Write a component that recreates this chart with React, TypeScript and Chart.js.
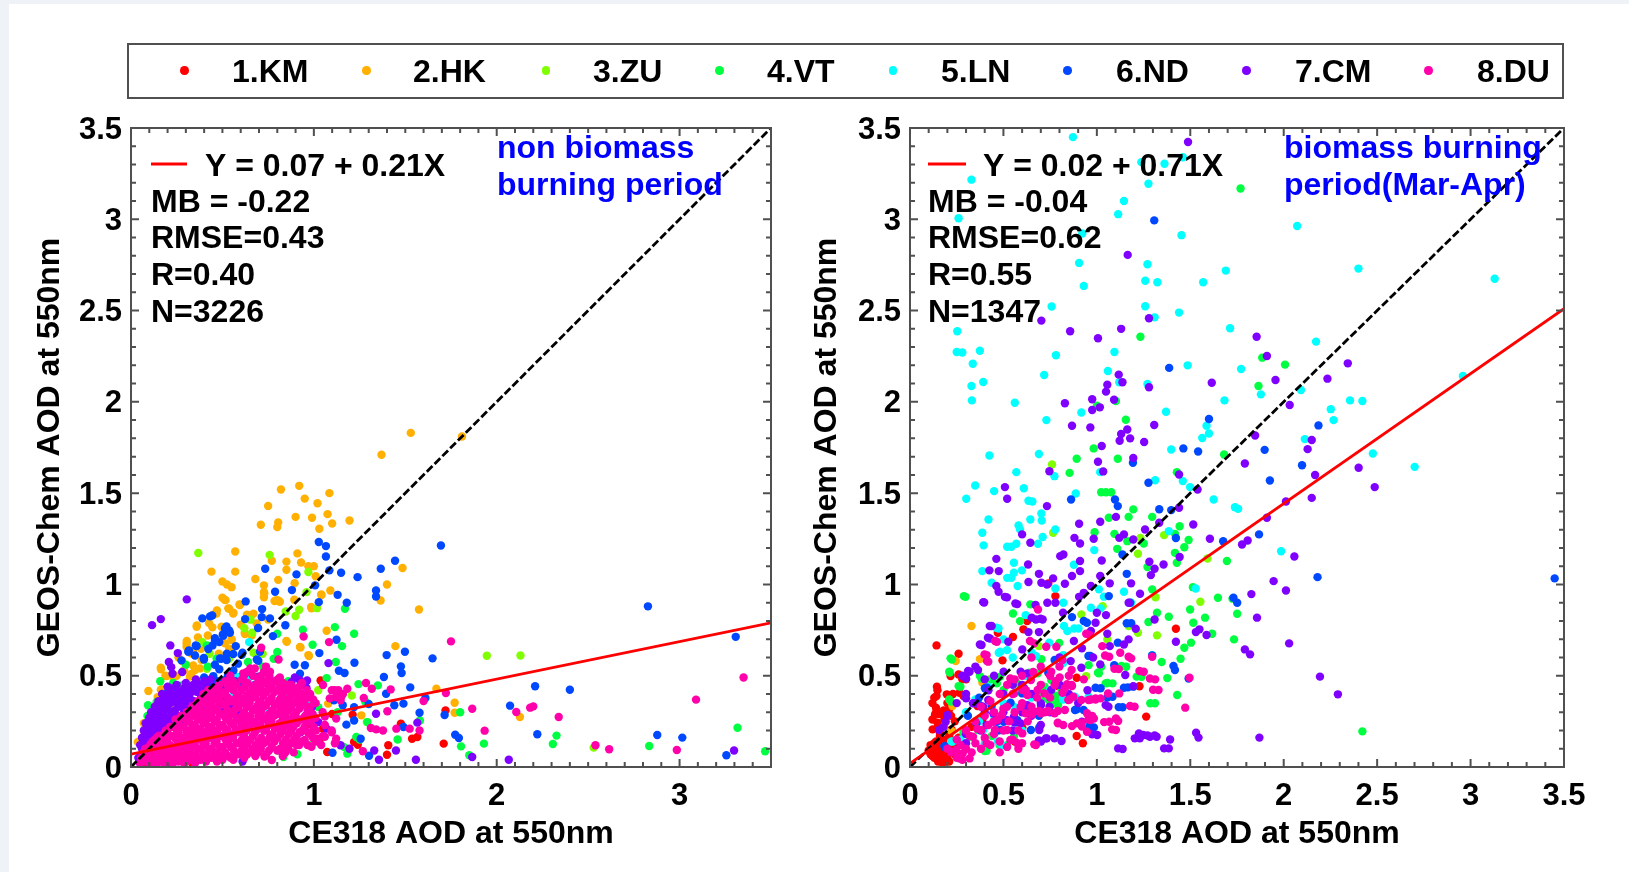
import React, { useEffect, useRef } from "react";
import { Chart, registerables } from "chart.js";

Chart.register(...registerables);

type Pair = [number, number];

const SERIES_NAMES = ["1.KM", "2.HK", "3.ZU", "4.VT", "5.LN", "6.ND", "7.CM", "8.DU"];
const SERIES_COLORS = ["#ff0000", "#ffb000", "#80ff00", "#00ff40", "#00ffff", "#0048ff", "#8000ff", "#ff00aa"];

/* ---------- left panel: non biomass burning period ---------- */
const leftKM: Pair[] = [[1.037,.474],[1.72,.31],[1.71,.128],[1.476,.237],[1.407,.119],[1.4,.067],[1.22,.137],[1.24,.122],[1.537,.155],[1.566,.164],[1.212,.286],[.963,.283],[.976,.237],[1.05,.21],[1,.2],[.073,.195],[.07,.01],[.12,0],[.34,.01],[1.073,.082],[1.1,.29],[.9,.27],[1.03,.14]];
const leftHK: Pair[] = [[1.53,1.83],[1.81,1.81],[1.37,1.71],[.82,1.52],[.92,1.54],[1.085,1.5],[.95,1.47],[.75,1.43],[1.02,1.445],[.9,1.37],[.99,1.365],[1.075,1.385],[1.195,1.35],[.71,1.327],[.805,1.34],[.8,1.314],[1.1,1.334],[1.03,1.305],[.57,1.18],[.91,1.17],[.77,1.13],[.85,1.125],[.93,1.12],[.97,1.1],[1,1.1],[.44,1.07],[.57,1.07],[.85,1.08],[.68,1.03],[.805,1.025],[1.01,1.045],[1.485,1.09],[.5,1.016],[.525,1],[.55,.985],[.727,.995],[.895,1.007],[1.4,1],[.727,.958],[.727,.93],[1.09,.967],[1.365,.912],[1.575,.863],[.5,.927],[.512,.916],[.805,.912],[.785,.909],[.893,.916],[1.04,.945],[.985,.876],[.537,.867],[.47,.858],[.56,.845],[.593,.89],[.45,.834],[.634,.834],[.67,.84],[.75,.808],[.36,.775],[.427,.788],[1.07,.746],[.622,.735],[.85,.69],[.366,.71],[.305,.69],[1.446,.662],[.924,.657],[.97,.613],[.55,.7],[.537,.648],[.383,.648],[.34,.63],[.163,.544],[.188,.5],[.29,.53],[.34,.556],[.33,.51],[.095,.416],[.163,.423],[.117,.283],[.037,.137],[1.67,.429],[1.77,.352],[1.77,.297],[2.127,.274],[1.078,.347],[1.26,.283],[.23,.338],[.195,.392],[.146,.383],[.164,.535],[.168,.425],[.195,.498],[.231,.491],[.304,.677],[.304,.659],[.359,.768],[.445,.765],[.517,.914],[.532,.869],[.559,.841],[.596,.887],[.468,.841],[.659,.832],[.623,.728],[.687,.786],[.796,.914],[.814,.905],[.729,.951],[1.042,.942],[.852,.686],[.927,.655],[.973,.608],[.987,.869],[.322,.495],[.35,.531],[.386,.586],[.295,.385],[.204,.33],[.122,.276],[.33,.622],[.377,.54],[.514,.677],[.55,.695],[.495,.768],[.085,.2],[.07,.24],[.26,.6],[.25,.5],[.28,.58],[.42,.72],[.48,.62],[.6,.78],[.66,.72]];
const leftZU: Pair[] = [[.368,1.172],[.758,1.162],[.97,1.068],[.96,.958],[.92,.861],[.9,.827],[.846,.852],[1.017,.87],[1.946,.609],[2.13,.611],[.663,.735],[.654,.807],[.39,.684],[.67,.626],[2.53,.106],[.415,.538],[.537,.593],[1.29,.246],[1.207,.392],[1.024,.42],[.33,.429],[.488,.465],[.62,.76],[.72,.62],[.43,.62]];
const leftVT: Pair[] = [[.093,.338],[.14,.356],[1.17,.867],[1.115,.766],[1.22,.73],[1.154,.662],[.993,.67],[.94,.752],[.8,.73],[.8,.63],[.78,.593],[1.12,.575],[1.07,.487],[1.244,.454],[1.35,.447],[1.024,.328],[1.8,.3],[1.58,.255],[1.293,.246],[1.458,.151],[1.805,.113],[1.85,.064],[1.93,.128],[2.327,.172],[2.307,.126],[2.834,.115],[3.317,.215],[3.468,.086],[1.183,.073],[.91,.07],[.834,.055],[.976,.119],[1.232,.164],[1.166,.109],[.805,.09],[.28,.447],[.39,.41],[.537,.356],[.64,.575],[.468,.593],[.415,.666],[.25,.44],[.19,.4],[.62,.46],[.75,.5],[.86,.47],[1.13,.3],[1.28,.36],[1.25,.15],[.1,.13],[.09,.28],[.16,.47],[.23,.46],[.3,.56],[.42,.55],[.56,.48],[.72,.55]];
const leftLN: Pair[] = [[.646,.684],[.585,.493],[.756,.3],[.927,.338],[.956,.352],[.56,.392],[.634,.41],[.854,.374],[.64,.48],[.98,.36]];
const leftND: Pair[] = [[1.027,1.232],[1.066,1.21],[1.066,1.153],[1.695,1.213],[.734,1.086],[1.444,1.13],[1.366,1.086],[1.085,1.077],[1.149,1.064],[1.239,1.04],[.905,1.055],[1.007,.995],[.788,.96],[.88,.969],[1.34,.967],[1.34,.934],[1.13,.943],[1.18,.9],[1.027,.903],[2.827,.88],[.627,.907],[.717,.865],[.715,.821],[.76,.814],[.624,.81],[.39,.814],[.432,.825],[.444,.83],[.844,.776],[.695,.761],[.522,.77],[.537,.748],[.502,.726],[.776,.717],[3.307,.713],[1.124,.697],[.459,.706],[.483,.684],[.446,.666],[.354,.666],[.573,.662],[.317,.639],[.35,.611],[.398,.597],[.524,.62],[.493,.593],[.61,.626],[.688,.589],[1.03,.624],[1.498,.631],[1.398,.613],[1.649,.595],[.276,.584],[1.476,.551],[1.48,.515],[1.222,.571],[1.137,.527],[1.168,.515],[.895,.56],[.951,.557],[.924,.511],[.459,.56],[.483,.535],[.585,.566],[.56,.529],[1.383,.493],[1.527,.436],[2.21,.442],[2.4,.423],[1.395,.401],[1.61,.378],[1.49,.347],[1.44,.338],[1.3,.345],[2.073,.336],[1.578,.297],[1.715,.285],[1.22,.328],[1.178,.232],[1.22,.255],[1.49,.219],[1.773,.177],[1.793,.159],[2.222,.179],[2.878,.175],[3.015,.161],[3.256,.064],[1.102,.078],[1.302,.062],[1.256,.155],[.678,.451],[.427,.451],[.317,.41],[.44,.338],[.658,.41],[1.11,.365],[1.158,.338],[.514,.759],[.541,.735],[.505,.719],[.459,.695],[.423,.646],[.359,.662],[.313,.631],[.399,.589],[.486,.595],[.523,.586],[.559,.619],[.605,.614],[.705,.631],[.696,.582],[.45,.498],[.423,.449],[.377,.403],[.441,.403],[.514,.476],[.659,.403],[.696,.495],[.605,.44],[.687,.44],[.204,.412],[.47,.47],[.53,.5],[.57,.47],[.4,.49],[.36,.46],[.64,.52],[.74,.46]];
const leftCM: Pair[] = [[.305,.918],[.163,.81],[.115,.777],[.215,.666],[.256,.624],[.207,.575],[.22,.547],[.227,.511],[.28,.52],[1.08,.569],[.963,.474],[.878,.465],[.923,.476],[.951,.458],[.96,.431],[.896,.491],[.05,.12],[.06,.16],[.07,.2],[.08,.24],[.09,.18],[.1,.27],[.1,.22],[.11,.3],[.12,.15],[.13,.33],[.14,.27],[.15,.36],[.15,.22],[.16,.3],[.17,.4],[.18,.34],[.19,.27],[.2,.44],[.2,.37],[.22,.3],[.23,.42],[.25,.35],[.26,.28],[.28,.4],[.3,.46],[.3,.33],[.32,.38],[.34,.45],[.35,.3],[.37,.42],[.38,.35],[.4,.47],[.42,.4],[.44,.33],[.46,.44],[.48,.37],[.5,.3],[.52,.38],[.55,.33],[.58,.3],[.6,.25],[.05,.02],[.1,.02],[.15,.03],[.2,.02],[.04,.05],[.61,.03],[1.558,.04],[1.866,.055],[2.066,.04],[3.298,.09],[1.356,.04],[1.33,.09],[1.449,.09],[1.34,.292],[1.566,.243],[1.195,.1],[.99,.328],[1.07,.21],[1.146,.119],[1.024,.246],[.927,.19],[.231,.403],[.268,.385],[.204,.394],[.168,.349],[.313,.403],[.359,.412],[.404,.422],[.386,.294],[.423,.276],[.13,.2],[.18,.18],[.22,.24],[.06,.1],[.07,.13],[.08,.17],[.09,.21],[.1,.16],[.105,.25],[.115,.19],[.12,.23],[.125,.28],[.13,.18],[.14,.22],[.14,.31],[.145,.34],[.15,.26],[.155,.19],[.16,.33],[.165,.24],[.17,.29],[.175,.36],[.18,.21],[.185,.31],[.19,.38],[.195,.24],[.2,.33],[.21,.27],[.21,.4],[.215,.35],[.225,.43],[.23,.27],[.24,.31],[.24,.38],[.25,.45],[.26,.33],[.265,.41],[.27,.25],[.28,.36],[.29,.3],[.29,.43],[.305,.37],[.31,.28],[.315,.44],[.325,.33],[.33,.41],[.345,.36],[.355,.48],[.36,.33],[.37,.45],[.39,.39],[.4,.33],[.41,.45],[.43,.37],[.435,.48],[.45,.41],[.465,.38],[.49,.44],[.51,.42],[.53,.36]];
const leftDU: Pair[] = [[1.75,.688],[3.35,.49],[3.09,.369],[.944,.715],[1.083,.684],[.807,.589],[.712,.653],[1.285,.46],[1.317,.429],[1.42,.425],[1.722,.405],[1.402,.305],[1.273,.378],[1.6,.361],[1.866,.319],[2.107,.301],[2.183,.325],[2.2,.332],[2.339,.274],[1.934,.199],[2.54,.119],[2.615,.097],[2.985,.093],[1.312,.214],[1.341,.206],[1.378,.2],[1.451,.21],[1.524,.21],[1.578,.2],[1.098,.42],[1.134,.42],[1.159,.4],[1.12,.383],[1.183,.429],[1.146,.365],[1.122,.265],[1.098,.19],[1.122,.155],[1.024,.155],[1.268,.086],[.514,.403],[.568,.367],[.614,.513],[.677,.54],[.76,.522],[.814,.49],[.687,.42],[.76,.467],[.86,.449],[.878,.412],[.823,.385],[.96,.42],[.915,.385],[1.05,.449],[1.114,.42],[1.15,.385],[1.087,.376],[1.06,.276],[.96,.276],[1.097,.2],[1.06,.166],[.95,.148],[.987,.111],[1.115,.13],[1.06,.23],[1.04,.12],[.77,.038],[.73,.057],[.905,.12],[.84,.12]];
const leftDUDense: Pair[] = [[.05,.02],[.055,.05],[.08,.03],[.082,.07],[.078,.1],[.1,.02],[.102,.06],[.098,.11],[.12,.04],[.122,.09],[.118,.14],[.14,.02],[.142,.07],[.138,.12],[.141,.16],[.16,.04],[.162,.1],[.158,.15],[.18,.02],[.182,.07],[.178,.12],[.181,.18],[.2,.04],[.202,.09],[.198,.14],[.2,.2],[.23,.02],[.232,.06],[.228,.11],[.231,.17],[.229,.22],[.26,.03],[.262,.08],[.258,.13],[.261,.19],[.259,.25],[.29,.02],[.292,.06],[.288,.11],[.291,.16],[.289,.22],[.29,.27],[.32,.04],[.322,.09],[.318,.14],[.321,.2],[.319,.25],[.32,.3],[.35,.02],[.352,.07],[.348,.12],[.351,.18],[.349,.23],[.35,.29],[.352,.34],[.38,.04],[.382,.1],[.378,.15],[.381,.21],[.379,.27],[.38,.33],[.382,.37],[.41,.03],[.412,.07],[.408,.13],[.411,.19],[.409,.25],[.41,.3],[.412,.36],[.44,.05],[.442,.1],[.438,.16],[.441,.22],[.439,.28],[.44,.34],[.442,.4],[.47,.03],[.472,.08],[.468,.14],[.471,.2],[.469,.26],[.47,.32],[.472,.37],[.468,.42],[.5,.04],[.502,.11],[.498,.17],[.501,.23],[.499,.29],[.5,.35],[.502,.41],[.53,.06],[.532,.13],[.528,.2],[.531,.26],[.529,.31],[.53,.38],[.532,.44],[.56,.04],[.562,.09],[.558,.16],[.561,.23],[.559,.29],[.56,.36],[.562,.42],[.558,.47],[.59,.07],[.592,.13],[.588,.19],[.591,.26],[.589,.33],[.59,.39],[.62,.05],[.622,.11],[.618,.17],[.621,.24],[.619,.3],[.62,.37],[.622,.44],[.618,.5],[.65,.08],[.652,.15],[.648,.22],[.651,.28],[.649,.35],[.65,.41],[.652,.54],[.68,.06],[.682,.12],[.678,.19],[.681,.25],[.679,.32],[.68,.38],[.682,.45],[.71,.1],[.712,.16],[.708,.23],[.711,.3],[.709,.36],[.71,.43],[.712,.5],[.74,.07],[.742,.14],[.738,.2],[.741,.27],[.739,.34],[.74,.41],[.742,.47],[.738,.55],[.77,.11],[.772,.18],[.768,.25],[.771,.31],[.769,.38],[.77,.45],[.8,.09],[.802,.16],[.798,.22],[.801,.29],[.799,.35],[.8,.42],[.802,.48],[.83,.06],[.832,.13],[.828,.2],[.831,.27],[.829,.33],[.83,.4],[.832,.46],[.86,.1],[.862,.18],[.858,.24],[.861,.31],[.859,.37],[.89,.08],[.892,.15],[.888,.22],[.891,.28],[.889,.35],[.89,.41],[.92,.12],[.922,.19],[.918,.26],[.921,.32],[.919,.38],[.92,.44],[.95,.22],[.952,.28],[.948,.36],[.98,.18],[.982,.25],[.978,.33],[.98,.4],[1.01,.14],[1.012,.2],[1.008,.27],[1.01,.35],[1.05,.17],[1.048,.3]];
const leftDUFill: Pair[] = [[.066,.04],[.068,.08],[.11,.04],[.112,.085],[.108,.125],[.13,.02],[.132,.065],[.128,.11],[.131,.15],[.15,.05],[.152,.09],[.148,.13],[.151,.17],[.17,.03],[.172,.08],[.168,.13],[.171,.17],[.19,.05],[.192,.1],[.188,.15],[.191,.2],[.215,.03],[.217,.07],[.213,.12],[.216,.17],[.214,.22],[.245,.04],[.247,.1],[.243,.155],[.246,.21],[.244,.26],[.275,.05],[.277,.105],[.273,.16],[.276,.22],[.274,.28],[.305,.03],[.307,.08],[.303,.13],[.306,.19],[.304,.25],[.305,.3],[.335,.06],[.337,.115],[.333,.17],[.336,.225],[.334,.28],[.335,.33],[.365,.045],[.367,.1],[.363,.15],[.366,.2],[.364,.26],[.365,.31],[.367,.36],[.395,.07],[.397,.12],[.393,.18],[.396,.24],[.394,.3],[.395,.35],[.397,.4],[.425,.05],[.427,.1],[.423,.16],[.426,.22],[.424,.27],[.425,.33],[.427,.38],[.423,.42],[.455,.07],[.457,.13],[.453,.19],[.456,.25],[.454,.31],[.455,.37],[.457,.43],[.485,.06],[.487,.11],[.483,.17],[.486,.23],[.484,.29],[.485,.34],[.487,.39],[.483,.45],[.515,.08],[.517,.15],[.513,.21],[.516,.27],[.514,.34],[.515,.4],[.517,.47],[.545,.05],[.547,.11],[.543,.18],[.546,.24],[.544,.3],[.545,.36],[.547,.43],[.543,.5],[.575,.07],[.577,.13],[.573,.2],[.576,.26],[.574,.32],[.575,.38],[.577,.45],[.605,.09],[.607,.15],[.603,.22],[.606,.28],[.604,.35],[.605,.42],[.607,.48],[.635,.07],[.637,.13],[.633,.2],[.636,.26],[.634,.33],[.635,.39],[.637,.46],[.633,.52],[.665,.1],[.667,.17],[.663,.24],[.666,.31],[.664,.38],[.665,.44],[.667,.5],[.695,.08],[.697,.14],[.693,.21],[.696,.28],[.694,.34],[.695,.41],[.697,.48],[.725,.13],[.727,.2],[.723,.26],[.726,.33],[.724,.39],[.725,.46],[.727,.52],[.755,.09],[.757,.16],[.753,.23],[.756,.29],[.754,.36],[.755,.43],[.757,.5],[.785,.14],[.787,.21],[.783,.28],[.786,.34],[.784,.41],[.785,.47],[.815,.1],[.817,.18],[.813,.24],[.816,.31],[.814,.37],[.815,.44],[.845,.08],[.847,.15],[.843,.22],[.846,.29],[.844,.35],[.845,.42],[.875,.13],[.877,.2],[.873,.26],[.876,.33],[.874,.39],[.875,.45],[.905,.17],[.907,.24],[.903,.3],[.906,.36],[.904,.43],[.935,.14],[.937,.2],[.933,.26],[.936,.34],[.934,.4],[.935,.46],[.965,.12],[.967,.19],[.963,.25],[.966,.31],[.964,.38],[.995,.16],[.997,.22],[.993,.29],[.996,.37]];

/* ---------- right panel: biomass burning period ---------- */
const rightKM: Pair[] = [[.142,.666],[.26,.62],[.144,.44],[.147,.42],[.142,.389],[.139,.325],[.134,.288],[.21,.316],[.121,.206],[.147,.243],[.197,.398],[.265,.407],[.26,.507],[.217,.498],[.607,.754],[.551,.712],[.47,.735],[.627,.799],[.778,.936],[.74,1.005],[1.423,.757],[.495,.584],[1.228,.442],[1.264,.276],[.892,.17],[.925,.13],[.892,.489],[.791,.443],[.601,.215],[.387,.261],[.286,.389],[.361,.334],[.16,.188],[.184,.261],[.222,.206],[.1,.09],[.12,.06],[.14,.1],[.16,.04],[.18,.08],[.2,.05],[.22,.09],[.13,.13],[.17,.13],[.2,.13],[.15,.07],[.19,.03],[.24,.07],[.11,.12],[.23,.12],[.16,.17],[.21,.17],[.26,.16],[.3,.2],[.33,.22],[.56,.14],[.28,.48],[.11,.07],[.13,.05],[.15,.03],[.17,.05],[.19,.06],[.21,.03],[.13,.09],[.16,.09],[.18,.11],[.21,.11],[.14,.14],[.19,.15],[.175,.02],[.2,.08],[.23,.1],[.12,.09],[.155,.12],[.12,.35],[.13,.38],[.14,.3],[.16,.29],[.18,.31],[.19,.27],[.2,.35],[.23,.4],[.24,.25],[.15,.22],[.12,.26],[.22,.28],[.3,.48]];
const rightHK: Pair[] = [[.329,.772],[.245,.58],[.374,.591],[.227,.334],[.222,.197],[.387,.462]];
const rightZU: Pair[] = [[.76,1.657],[1.22,1.168],[1.36,1.27],[1.322,.721],[1.554,.905],[1.592,1.142],[1.314,.93],[1.17,.772],[1.22,.735],[1.233,1.255],[1.031,.881],[1.056,.699],[.766,1.283],[.917,.836],[.425,.48],[.69,.662],[.943,.498]];
const rightVT: Pair[] = [[1.769,3.169],[1.233,2.357],[1.885,2.242],[2.007,2.204],[1.865,2.087],[1.102,2.005],[1.001,1.979],[1.155,1.902],[.983,1.745],[1.112,1.688],[1.681,1.712],[.892,1.688],[.854,1.611],[1.428,1.615],[1.023,1.505],[1.049,1.505],[1.077,1.505],[1.195,1.411],[1.296,1.37],[1.064,1.365],[1.17,1.37],[.988,1.286],[1.443,1.319],[1.094,1.277],[1.418,1.277],[1.251,1.224],[1.468,1.204],[1.491,1.243],[1.109,1.195],[1.163,1.237],[1.418,1.173],[1.428,1.119],[1.271,1.095],[1.696,1.128],[1.296,.973],[1.514,.985],[1.648,.927],[1.726,.922],[.288,.936],[.551,.841],[.589,.799],[.644,.891],[1.499,.863],[1.751,.839],[1.322,.845],[1.385,.823],[1.579,.818],[1.276,.794],[1.516,.79],[1.617,.73],[.799,.68],[1.734,.699],[1.468,.653],[1.504,.681],[1.448,.593],[1.347,.575],[1.132,.553],[1.213,.495],[1.377,.487],[1.43,.394],[1.286,.349],[2.421,.195],[.26,.443],[.21,.522],[.217,.595],[.64,.516],[.703,.59],[.766,.352],[.753,.343],[.791,.352],[.69,.407],[.564,.407],[.374,.498],[.21,.37],[.286,.188],[.4,.088],[1.056,.46],[1.006,.516],[.437,.48],[.437,.17],[.72,.44],[.78,.39],[.297,.932],[.224,.589],[.213,.518],[.27,.44],[.219,.358],[.41,.089],[.479,.12],[.556,.166],[.683,.412],[.756,.349],[.774,.349],[.792,.339],[1.311,.349],[.647,.312],[.501,.422],[.465,.458],[.383,.485],[.574,.458],[.319,.166],[.364,.203],[.519,.12],[.592,.203],[.683,.513],[.756,.476],[.811,.422],[.483,.495],[1.047,.458],[1.084,.458],[1.011,.513],[1.024,.549],[.956,.558],[1.157,.549],[1.239,.494],[.7,.37],[.74,.37]];
const rightLN: Pair[] = [[.872,3.45],[1.238,3.313],[1.362,3.304],[1.46,3.34],[.329,3.217],[1.276,3.195],[1.145,3.1],[1.114,3.028],[.26,3.006],[2.072,2.963],[.922,2.922],[1.453,2.913],[.905,2.761],[1.271,2.754],[2.4,2.73],[1.69,2.719],[.93,2.635],[1.259,2.663],[1.324,2.655],[1.569,2.655],[3.129,2.674],[.758,2.522],[1.259,2.524],[1.309,2.463],[1.44,2.489],[.253,2.387],[1.713,2.403],[2.173,2.33],[.25,2.273],[.28,2.27],[.374,2.28],[.781,2.255],[1.094,2.273],[.336,2.209],[1.486,2.2],[1.059,2.169],[1.772,2.18],[.718,2.147],[2.959,2.142],[.329,2.087],[.392,2.109],[1.12,2.107],[1.271,2.098],[2.092,2.065],[1.878,2.041],[.331,2.008],[.561,1.995],[1.683,2.008],[2.355,2.008],[2.421,2.005],[2.252,1.96],[.917,1.942],[1.37,1.946],[.73,1.9],[2.267,1.9],[1.587,1.869],[1.6,1.827],[1.564,1.802],[2.113,1.796],[1.398,1.739],[2.477,1.717],[.425,1.706],[.69,1.714],[2.701,1.644],[.569,1.615],[.773,1.593],[1.018,1.615],[1.312,1.571],[1.46,1.566],[1.499,1.533],[.349,1.542],[.45,1.511],[.609,1.527],[.301,1.469],[1.625,1.465],[.634,1.458],[.655,1.454],[.887,1.498],[1.739,1.423],[1.756,1.414],[.703,1.389],[.42,1.356],[.644,1.356],[.705,1.35],[.581,1.323],[.589,1.301],[.387,1.283],[.778,1.301],[.71,1.26],[.394,1.214],[.569,1.223],[.52,1.206],[.543,1.206],[.685,1.223],[.986,1.188],[1.385,1.292],[1.986,1.182],[.556,1.119],[.877,1.108],[.387,1.073],[.556,1.064],[.599,1.077],[.52,1.036],[.543,1.036],[.437,1.009],[.576,.991],[.778,.978],[1.011,.973],[1.145,.96],[1.529,.978],[.821,.9],[1.183,.9],[.968,.872],[.619,.832],[.462,.763],[.824,.772],[.5,.699],[.745,.681],[.475,.626],[.821,.571],[.652,.626],[.842,.745],[.879,.759],[1.296,.613],[.55,.46],[.42,.44],[.35,.37],[.65,.38],[.3,.3],[.37,.25],[.27,.15],[.22,.14],[.4,.13],[.47,.14],[.6,.2],[.7,.3],[.82,.37],[.5,.35],[.45,.28],[.75,.42],[.62,.5],[.55,.6],[.228,.139],[.255,.148],[.483,.631],[.474,.759],[.674,.608],[.902,.759],[.883,.385],[.956,.385],[.392,.203],[.492,.12],[.556,.33],[.41,.422],[.519,.64],[.82,.613],[1.02,.869],[1.038,.933]];
const rightND: Pair[] = [[1.307,2.994],[1.387,2.186],[1.6,1.906],[2.186,1.871],[1.463,1.745],[1.542,1.728],[1.898,1.737],[1.193,1.666],[2.098,1.653],[1.276,1.557],[1.926,1.569],[.862,1.465],[1.097,1.465],[1.112,1.429],[1.334,1.412],[1.398,1.407],[1.423,1.254],[1.868,1.274],[1.676,1.237],[1.137,1.164],[2.181,1.04],[3.45,1.033],[1.16,1.058],[1.064,.936],[1.731,.927],[1.751,.9],[1.178,.9],[.867,.821],[.93,.8],[1.16,.787],[1.112,.681],[.955,.608],[1.296,.611],[1.41,.553],[1.418,.531],[1.491,.485],[1.145,.434],[1.195,.44],[1.056,.38],[1.117,.328],[.96,.224],[.184,.115],[.993,.434],[.892,.316],[.437,.334],[.564,.243],[.31,.28],[.412,.434],[.538,.352],[.74,.516],[.69,.28],[.37,.38],[.63,.33],[.47,.2],[.188,.108],[.401,.431],[.373,.339],[.355,.239],[.464,.248],[.501,.248],[.692,.217],[.601,.403],[1.138,.327],[1.166,.436],[.984,.217],[.929,.312],[.883,.312],[.774,.586],[.947,.79],[.965,.608],[1.093,.558],[1.184,.787],[1.084,.385],[1.02,.431],[.483,.203],[.647,.203],[.574,.257]];
const rightCM: Pair[] = [[1.488,3.423],[1.165,2.805],[.703,2.445],[1.279,2.458],[.857,2.387],[1.006,2.348],[1.13,2.4],[1.855,2.357],[1.91,2.251],[2.343,2.211],[2.234,2.127],[1.956,2.12],[1.615,2.105],[1.056,2.094],[1.117,2.149],[1.137,2.107],[1.279,2.08],[1.049,2.056],[.975,2.014],[1.092,2.012],[.829,1.992],[1.016,1.97],[.975,1.955],[2.032,1.983],[.867,1.869],[.965,1.86],[1.307,1.873],[1.163,1.849],[1.13,1.824],[1.847,1.816],[1.122,1.787],[1.178,1.8],[1.253,1.78],[2.15,1.791],[1.026,1.758],[2.128,1.741],[1.006,1.672],[1.195,1.693],[.746,1.62],[1.034,1.619],[1.44,1.602],[2.401,1.639],[2.168,1.599],[1.792,1.662],[2.487,1.533],[1.539,1.52],[.508,1.533],[.52,1.469],[2.15,1.474],[2.012,1.454],[.733,1.429],[1.44,1.42],[1.102,1.37],[1.91,1.365],[.905,1.332],[1.018,1.343],[1.516,1.328],[1.258,1.301],[1.334,1.338],[1.12,1.255],[1.145,1.274],[.88,1.255],[.983,1.25],[.91,1.224],[1.195,1.246],[1.605,1.25],[1.807,1.241],[1.777,1.219],[.6,1.274],[.644,1.228],[.804,1.155],[.821,1.164],[.462,1.14],[1.443,1.15],[2.057,1.153],[1.026,1.131],[.91,1.128],[1.281,1.124],[.632,1.109],[1.357,1.109],[1.309,1.086],[.425,1.077],[.475,1.073],[.91,1.073],[.69,1.058],[1.289,1.051],[.867,1.046],[.766,1.033],[1.018,1.046],[.634,1.013],[.703,1.009],[.733,1],[.829,1.004],[1.183,1.006],[1.069,1.006],[1.946,1.018],[.462,.991],[.968,.991],[2.012,.967],[.93,.954],[1.827,.947],[.508,.932],[.905,.932],[1.231,.949],[.392,.903],[.564,.896],[.735,.9],[.778,.9],[1.17,.9],[.672,.887],[.819,.845],[1,.845],[1.049,.832],[1.309,.808],[1.857,.818],[.652,.818],[.698,.812],[.993,.79],[.427,.772],[.69,.739],[.634,.739],[.968,.745],[1.056,.73],[1.208,.757],[1.549,.754],[1.53,.739],[1.587,.723],[.374,.671],[.417,.708],[.526,.686],[.601,.644],[.877,.69],[1.423,.686],[2.029,.677],[1.792,.644],[1.82,.617],[1.069,.662],[1.145,.671],[1.17,.699],[2.194,.495],[2.29,.398],[.311,.526],[.917,.544],[1.018,.562],[1.152,.504],[1.195,.443],[1.87,.161],[1.531,.188],[1.544,.161],[1.203,.157],[1.225,.184],[1.271,.173],[1.309,.173],[1.392,.151],[1.36,.102],[1.385,.102],[1.114,.102],[.975,.179],[.69,.146],[.728,.157],[.773,.157],[.811,.142],[.45,.25],[.4,.3],[.35,.35],[.3,.4],[.5,.3],[.55,.25],[.6,.3],[.65,.4],[.7,.35],[.75,.3],[.8,.45],[.55,.45],[.45,.5],[.4,.48],[.35,.55],[.28,.5],[.25,.35],[.2,.28],[.18,.22],[.42,.42],[.5,.4],[.6,.45],[.65,.28],[.7,.23],[.38,.2],[.3,.18],[.85,.4],[.9,.35],[.95,.42],[.55,.2],[.86,.58],[.98,.6],[.92,.65],[.8,.6],[.397,.901],[.474,.96],[.519,.929],[.574,.892],[.674,.808],[.71,.808],[.437,.772],[.383,.668],[.428,.704],[.319,.522],[.364,.531],[.2,.285],[.191,.248],[.155,.203],[.3,.13],[.3,.376],[.337,.349],[.392,.33],[.419,.367],[.501,.522],[.592,.522],[.628,.513],[.61,.431],[.701,.339],[.747,.33],[.519,.257],[.556,.248],[.692,.203],[.701,.139],[.732,.157],[1.23,.157],[1.248,.175],[1.284,.166],[1.32,.166],[1.138,.099],[1.002,.175],[1.047,.339],[1.062,.33],[.41,.23],[.446,.294],[.474,.257],[.556,.276],[.592,.239],[.628,.339],[.756,.422],[.801,.449],[.92,.248],[.3,.485]];
const rightDU: Pair[] = [[.685,.863],[.399,.617],[.412,.58],[.455,.69],[.642,.69],[1.044,.611],[1.125,.626],[1.17,.604],[1.296,.604],[1.228,.526],[1.284,.485],[1.301,.423],[1.496,.489],[1.473,.325],[1.178,.334],[1.094,.538],[.943,.73],[.93,.48],[1.114,.252],[1.039,.246],[.975,.279],[.955,.261],[1.082,.206],[.917,.243],[.968,.37],[.917,.367],[.993,.37],[.841,.453],[.867,.443],[.816,.407],[.854,.37],[.791,.307],[.74,.307],[.69,.307],[.652,.288],[.791,.243],[.867,.224],[.665,.124],[.22,.08],[.25,.05],[.28,.04],[.3,.1],[.27,.12],[.33,.08],[.35,.13],[.32,.17],[.38,.1],[.4,.16],[.36,.21],[.43,.12],[.45,.18],[.42,.23],[.48,.14],[.5,.2],[.47,.26],[.52,.11],[.55,.15],[.53,.25],[.5,.32],[.58,.2],[.56,.3],[.6,.13],[.63,.25],[.6,.35],[.55,.4],[.65,.33],[.62,.42],[.68,.38],[.7,.45],[.66,.52],[.6,.5],[.72,.3],[.75,.38],[.78,.47],[.45,.3],[.4,.28],[.35,.25],[.3,.2],[.25,.15],[.2,.1],[.38,.33],[.43,.36],[.48,.4],[.52,.45],[.56,.48],[.75,.5],[.7,.55],[.65,.6],[.8,.55],[.85,.5],[.58,.1],[.48,.08],[.246,.093],[.282,.075],[.319,.047],[.264,.047],[.337,.166],[.383,.203],[.41,.13],[.455,.203],[.446,.248],[.492,.285],[.519,.203],[.537,.148],[.574,.13],[.601,.184],[.519,.33],[.592,.33],[.556,.403],[.601,.422],[.628,.394],[.647,.476],[.537,.485],[.41,.613],[.419,.577],[.465,.686],[.62,.294],[.665,.303],[.701,.294],[.738,.303],[.774,.294],[.829,.312],[.674,.12],[.792,.239],[.82,.23],[.956,.367],[.993,.376],[1.02,.376],[.947,.294],[.965,.257],[.984,.266],[.865,.449],[.829,.431],[.874,.385],[.847,.367],[1.066,.248],[1.102,.266],[1.102,.203],[.92,.221],[.893,.239],[.947,.193],[1.06,.403],[1.12,.403],[1.066,.604],[1.117,.536],[1.184,.595],[1.312,.48],[1.251,.522],[1.33,.422],[1.202,.33],[.96,.723],[1.029,.662],[.865,.531],[.756,.522],[.801,.491],[.72,.403],[.683,.422],[.774,.449],[.665,.677],[.729,.659],[.783,.659],[.816,.586]];

const leftSeries = [leftKM, leftHK, leftZU, leftVT, leftLN, leftND, leftCM, [...leftDU, ...leftDUDense, ...leftDUFill]];
const rightSeries = [rightKM, rightHK, rightZU, rightVT, rightLN, rightND, rightCM, rightDU];

const leftFit: Pair[] = [[0, 0.07], [3.5, 0.79]];
const rightFit: Pair[] = [[0, 0.02], [3.5, 2.51]];
const oneToOne: Pair[] = [[0, 0], [3.5, 3.5]];

const leftStats = ["MB = -0.22", "RMSE=0.43", "R=0.40", "N=3226"];
const rightStats = ["MB = -0.04", "RMSE=0.62", "R=0.55", "N=1347"];
const leftEquation = "Y = 0.07 + 0.21X";
const rightEquation = "Y = 0.02 + 0.71X";
const leftNote = ["non biomass", "burning period"];
const rightNote = ["biomass burning", "period(Mar-Apr)"];

const X_TITLE = "CE318 AOD at 550nm";
const Y_TITLE = "GEOS-Chem AOD at 550nm";

const FONT = "'Liberation Sans', Arial, sans-serif";
const FRAME = "#505050";

/* layout constants */
const LEGEND_DOT_X = [184, 366, 545.5, 719, 892.5, 1067, 1246, 1428];
const LEGEND_TEXT_X = [232, 413, 593, 767, 941, 1116, 1295, 1477];

type PanelConfig = {
  series: Pair[][];
  fit: Pair[];
  stats: string[];
  equation: string;
  note: string[];
  xMajor: number;
  canvasLeft: number;
  canvasWidth: number;
  plotLeft: number;
  plotRight: number;
  titlePad: number;
  textX: number;
  lineEnd: number;
  eqX: number;
  noteX: number;
};

const isMajor = (v: number, step: number) => Math.abs(v / step - Math.round(v / step)) < 1e-6;
const fmt = (v: number) => String(Math.round(v * 10) / 10);

function makeChart(canvas: HTMLCanvasElement, cfg: PanelConfig) {
  const PLOT_TOP = 128;
  const PLOT_BOTTOM = 767;
  const height = 872;
  const decorations = {
    id: "decorations",
    afterDatasetsDraw(chart: any) {
      const { ctx, chartArea: a, scales } = chart;
      ctx.save();
      ctx.strokeStyle = FRAME;
      ctx.lineWidth = 2;
      ctx.beginPath();
      for (const t of scales.x.ticks) {
        const p = scales.x.getPixelForValue(t.value);
        const len = isMajor(t.value, cfg.xMajor) ? 8 : 5;
        ctx.moveTo(p, a.bottom);
        ctx.lineTo(p, a.bottom - len);
        ctx.moveTo(p, a.top);
        ctx.lineTo(p, a.top + len);
      }
      for (const t of scales.y.ticks) {
        const p = scales.y.getPixelForValue(t.value);
        const len = isMajor(t.value, 0.5) ? 8 : 5;
        ctx.moveTo(a.left, p);
        ctx.lineTo(a.left + len, p);
        ctx.moveTo(a.right, p);
        ctx.lineTo(a.right - len, p);
      }
      ctx.stroke();
      ctx.strokeRect(a.left, a.top, a.right - a.left, a.bottom - a.top);

      ctx.textBaseline = "middle";
      ctx.textAlign = "left";
      ctx.font = `bold 32px ${FONT}`;
      ctx.fillStyle = "#000";
      ctx.fillText(cfg.equation, cfg.eqX, 167);
      cfg.stats.forEach((s, i) => ctx.fillText(s, cfg.textX, 203 + i * 36.6));
      ctx.strokeStyle = "#ff0000";
      ctx.lineWidth = 3;
      ctx.beginPath();
      ctx.moveTo(cfg.textX, 164);
      ctx.lineTo(cfg.lineEnd, 164);
      ctx.stroke();
      ctx.font = `bold 32px ${FONT}`;
      ctx.fillStyle = "#0000ff";
      cfg.note.forEach((s, i) => ctx.fillText(s, cfg.noteX, 149 + i * 37));
      ctx.restore();
    },
  };

  const pointSets = cfg.series.map((pts, i) => ({
    type: "scatter" as const,
    label: SERIES_NAMES[i],
    data: pts.map(([x, y]) => ({ x, y })),
    backgroundColor: SERIES_COLORS[i],
    pointRadius: 4.2,
    pointBorderWidth: 0,
    showLine: false,
    order: 10 - i,
  }));
  const lineSet = (pts: Pair[], color: string, dash: number[], width: number, order: number, label: string) => ({
    type: "scatter" as const,
    label,
    data: pts.map(([x, y]) => ({ x, y })),
    borderColor: color,
    borderWidth: width,
    borderDash: dash,
    pointRadius: 0,
    showLine: true,
    order,
  });

  return new Chart(canvas, {
    type: "scatter",
    data: {
      datasets: [
        ...pointSets,
        lineSet(oneToOne, "#000000", [8, 3], 2.8, 1, "1:1"),
        lineSet(cfg.fit, "#ff0000", [], 2.8, 0, "fit"),
      ],
    } as any,
    plugins: [decorations],
    options: {
      animation: false,
      responsive: false,
      maintainAspectRatio: false,
      layout: {
        autoPadding: false,
        padding: { left: 0, top: PLOT_TOP, right: cfg.canvasWidth - (cfg.plotRight - cfg.canvasLeft), bottom: 0 },
      },
      plugins: { legend: { display: false }, tooltip: { enabled: false }, title: { display: false } },
      scales: {
        x: {
          type: "linear",
          min: 0,
          max: 3.5,
          afterFit: (s: any) => { s.height = height - PLOT_BOTTOM; },
          border: { display: false },
          grid: { display: false, drawTicks: false },
          ticks: {
            stepSize: 0.1,
            autoSkip: false,
            maxRotation: 0,
            padding: 11,
            color: "#000",
            font: { family: FONT, weight: "bold", size: 31 },
            callback: (v: any) => (isMajor(Number(v), cfg.xMajor) ? fmt(Number(v)) : ""),
          },
          title: {
            display: true,
            text: X_TITLE,
            color: "#000",
            font: { family: FONT, weight: "bold", size: 32 },
            padding: { top: 0, bottom: 19 },
          },
        },
        y: {
          type: "linear",
          min: 0,
          max: 3.5,
          afterFit: (s: any) => { s.width = cfg.plotLeft - cfg.canvasLeft; },
          border: { display: false },
          grid: { display: false, drawTicks: false },
          ticks: {
            stepSize: 0.1,
            autoSkip: false,
            padding: 9,
            labelOffset: 2,
            color: "#000",
            font: { family: FONT, weight: "bold", size: 31 },
            callback: (v: any) => (isMajor(Number(v), 0.5) ? fmt(Number(v)) : ""),
          },
          title: {
            display: true,
            text: Y_TITLE,
            color: "#000",
            font: { family: FONT, weight: "bold", size: 32 },
            padding: { top: cfg.titlePad, bottom: 0 },
          },
        },
      },
    } as any,
  });
}

export default function App() {
  const leftRef = useRef<HTMLCanvasElement>(null);
  const rightRef = useRef<HTMLCanvasElement>(null);

  useEffect(() => {
    const a = makeChart(leftRef.current!, {
      series: leftSeries, fit: leftFit, stats: leftStats, equation: leftEquation, note: leftNote,
      xMajor: 1, canvasLeft: 0, canvasWidth: 795, plotLeft: 131, plotRight: 771, titlePad: 31,
      textX: 151, lineEnd: 187, eqX: 205, noteX: 497,
    });
    const b = makeChart(rightRef.current!, {
      series: rightSeries, fit: rightFit, stats: rightStats, equation: rightEquation, note: rightNote,
      xMajor: 0.5, canvasLeft: 795, canvasWidth: 834, plotLeft: 910, plotRight: 1564, titlePad: 13,
      textX: 133, lineEnd: 171, eqX: 188, noteX: 489,
    });
    return () => { a.destroy(); b.destroy(); };
  }, []);

  return (
    <div style={{ position: "fixed", inset: 0, background: "#eff3f8", overflow: "hidden" }}>
      <div style={{ position: "absolute", left: 9, top: 4, right: 0, bottom: 0, background: "#fff" }} />
      <canvas ref={leftRef} width={795} height={872} style={{ position: "absolute", left: 0, top: 0, width: 795, height: 872, filter: "blur(0.5px)" }} />
      <canvas ref={rightRef} width={834} height={872} style={{ position: "absolute", left: 795, top: 0, width: 834, height: 872, filter: "blur(0.5px)" }} />
      <div style={{ position: "absolute", left: 127, top: 43, width: 1437, height: 56, boxSizing: "border-box", border: `2px solid ${FRAME}` }} />
      {SERIES_NAMES.map((name, i) => (
        <React.Fragment key={name}>
          <div style={{ position: "absolute", left: LEGEND_DOT_X[i] - 4, top: 66, width: 8.5, height: 8.5, borderRadius: "50%", background: SERIES_COLORS[i] }} />
          <div style={{ position: "absolute", left: LEGEND_TEXT_X[i], top: 53, lineHeight: "37px", font: `bold 32px ${FONT}`, color: "#000", whiteSpace: "nowrap", filter: "blur(0.4px)" }}>{name}</div>
        </React.Fragment>
      ))}
    </div>
  );
}
